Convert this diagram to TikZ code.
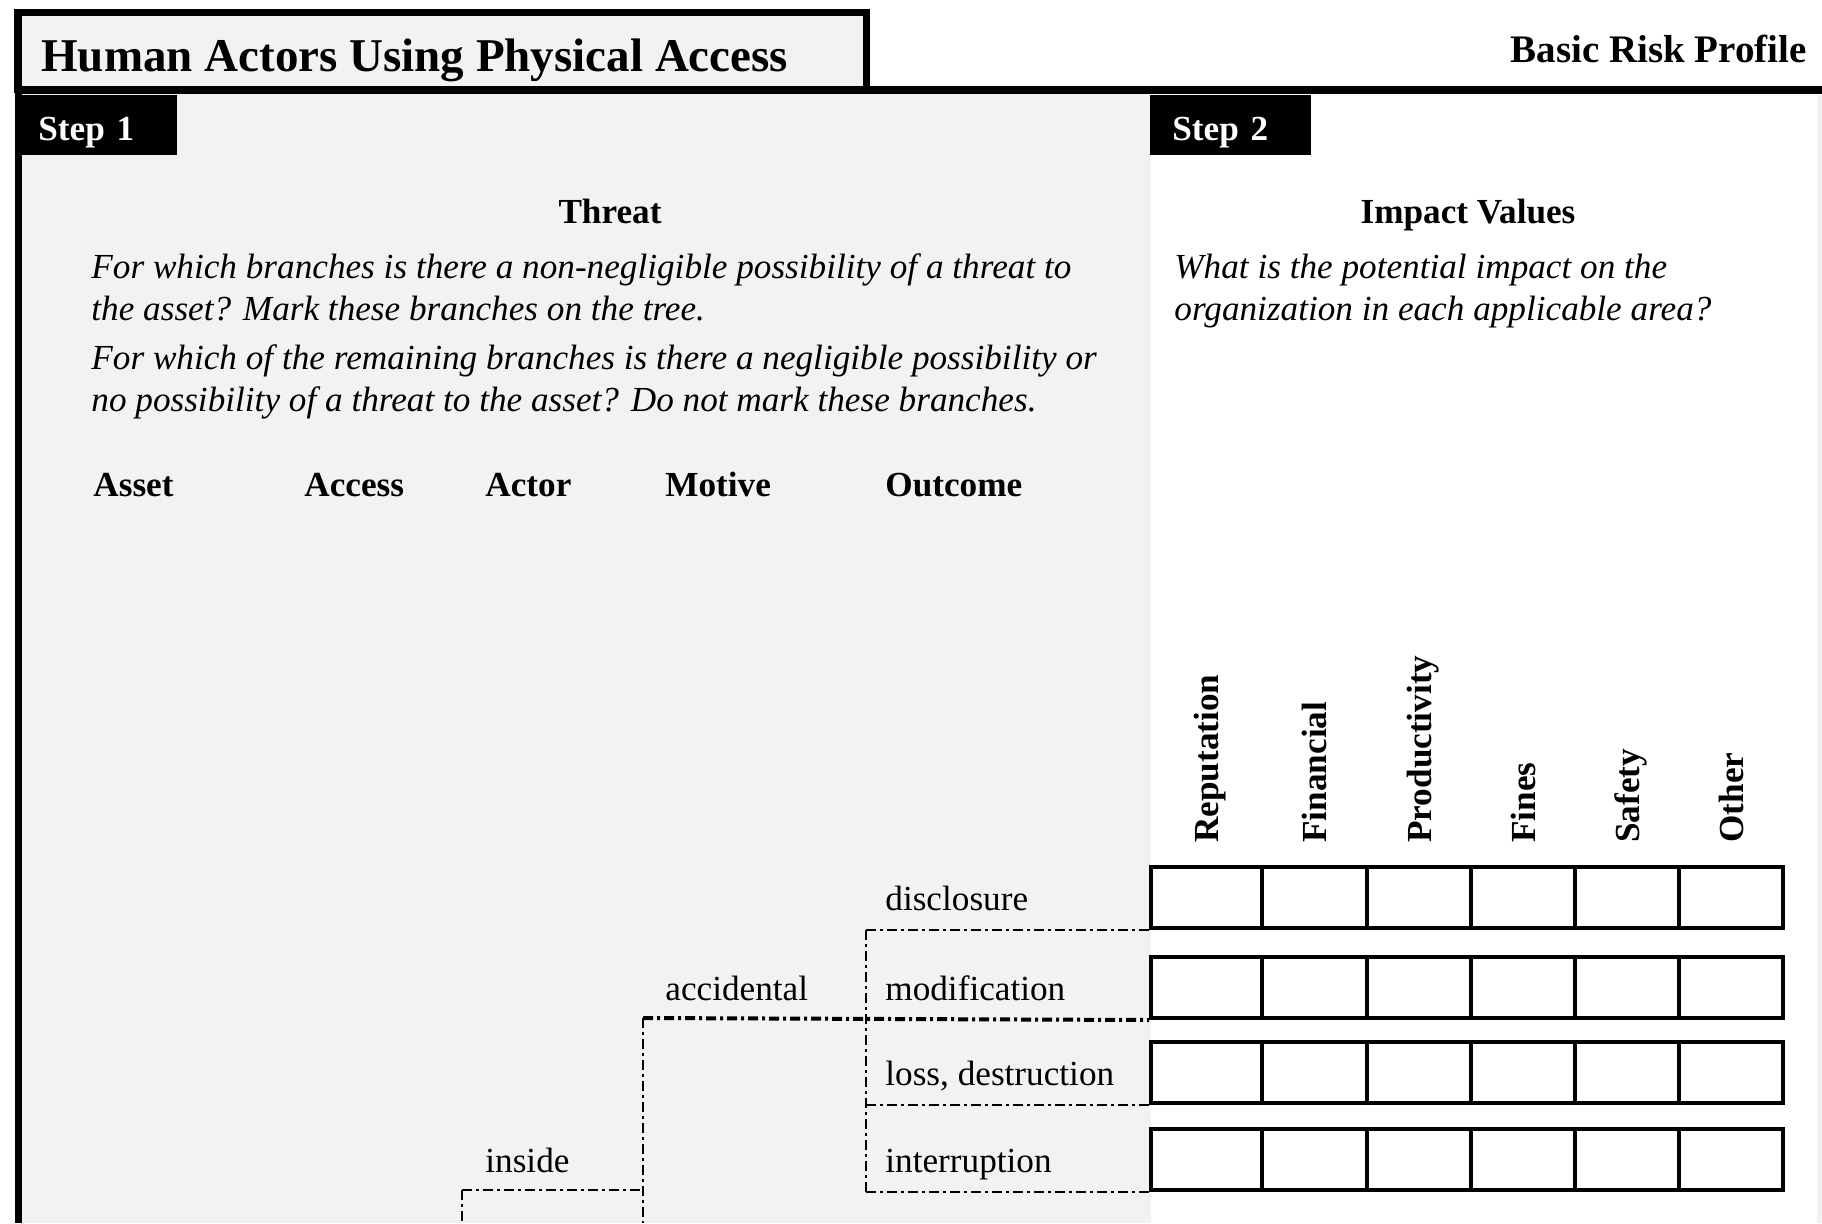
\documentclass[tikz,border=0pt]{standalone}
\usepackage{fontspec}
\setmainfont{Liberation Serif}
\definecolor{panelgray}{RGB}{242,242,242}
\begin{document}
\begin{tikzpicture}[x = 0.5pt, y = -0.5pt, draw = black,
  txt/.style = {inner sep = 0pt, font = \fontsize{17.6}{21}\selectfont},
  head/.style = {inner sep = 0pt, font = \fontsize{17.6}{21}\selectfont\bfseries},
  ask/.style = {inner sep = 0pt, anchor = base west, font = \fontsize{17.6}{21}\selectfont\itshape},
  tab/.style = {fill = black, text = white, anchor = north west, inner xsep = 11pt, inner ysep = 0pt,
    text width = 58.5pt, text height = 15pt, text depth = 0pt, minimum height = 30pt,
    font = \fontsize{17.6}{21}\selectfont\bfseries},
  cellbox/.style = {draw, fill = white, line width = 2pt, inner sep = 0pt, minimum height = 30.5pt},
  branch/.style = {line width = 1.2pt, dash pattern = on 5pt off 2pt on 1.5pt off 2pt},
  trunk/.style = {line width = 2pt, dash pattern = on 5pt off 2pt on 1.5pt off 2pt}]
\useasboundingbox (0,0) rectangle (1822,1223);
\fill[white] (0,0) rectangle (1822,1223);
\fill[panelgray] (18,90) rectangle (1151,1223);
\fill[panelgray] (1817,95) rectangle (1822,1223);
% frame
\filldraw[fill = panelgray, line width = 3.5pt] (17,12) rectangle (866,89);
\draw[line width = 4pt] (17,90) -- (1822,90);
\draw[line width = 3.5pt] (18,10) -- (18,1223);
\node[inner sep = 0pt, anchor = base west, font = \fontsize{23.5}{28}\selectfont\bfseries] (title) at (41,71) {Human Actors Using Physical Access};
\node[inner sep = 0pt, anchor = base east, font = \fontsize{19.5}{23}\selectfont\bfseries] (profile) at (1807,62) {Basic Risk Profile};
\node[tab] (step1) at (16,95) {Step 1};
\node[tab] (step2) at (1150,95) {Step 2};
% step 1
\node[head, anchor = base] (threat) at (610,223) {Threat};
\node[ask] (q1) at (91,278) {For which branches is there a non-negligible possibility of a threat to};
\node[ask] (q2) at (91,320) {the asset? Mark these branches on the tree.};
\node[ask] (q3) at (91,369) {For which of the remaining branches is there a negligible possibility or};
\node[ask] (q4) at (91,411) {no possibility of a threat to the asset? Do not mark these branches.};
\node[head, anchor = base west] (asset) at (93,496) {Asset};
\node[head, anchor = base west] (access) at (304,496) {Access};
\node[head, anchor = base west] (actor) at (485,496) {Actor};
\node[head, anchor = base west] (motive) at (665,496) {Motive};
\node[head, anchor = base west] (outcome) at (885,496) {Outcome};
% step 2
\node[head, anchor = base] (impact) at (1468,223) {Impact Values};
\node[ask] (p1) at (1174,278) {What is the potential impact on the};
\node[ask] (p2) at (1174,320) {organization in each applicable area?};
\foreach \r/\yb in {1/928, 2/1018, 3/1103, 4/1190}
  \foreach \c/\xa/\xb in {1/1151/1262, 2/1262/1367, 3/1367/1471, 4/1471/1575, 5/1575/1679, 6/1679/1783}
    \node[cellbox, minimum width = {(\xb-\xa)*0.5pt}] (c\r-\c) at ({(\xa+\xb)/2},{\yb-30.5}) {};
\foreach \c/\name in {1/Reputation, 2/Financial, 3/Productivity, 4/Fines, 5/Safety, 6/Other}
  \node[head, rotate = 90, anchor = base west] (imp\c) at ([shift = {(12,-22)}]c1-\c.north) {\name};
% tree
\node[txt, anchor = base west] (disclosure) at (885,910) {disclosure};
\node[txt, anchor = base west] (modification) at (885,1000) {modification};
\node[txt, anchor = base west] (loss) at (885,1085) {loss, destruction};
\node[txt, anchor = base west] (interruption) at (885,1172) {interruption};
\node[txt, anchor = base west] (accidental) at (665,1000) {accidental};
\node[txt, anchor = base west] (inside) at (485,1172) {inside};
\coordinate (fork) at (866,1018);
\coordinate (split) at (643,1018);
\coordinate (branchin) at (462,1190);
\coordinate (bottom) at (0,1223);
\draw[branch] (fork |- c1-1.south west) -- (fork |- c4-1.south west);
\foreach \r in {1,3,4}
  \draw[branch] (fork |- c\r-1.south west) -- (c\r-1.south west);
\draw[trunk] (split) -- (c2-1.south west);
\draw[branch] (split) -- (split |- bottom);
\draw[branch] (branchin) -- (split |- branchin);
\draw[branch] (branchin) -- (branchin |- bottom);
\end{tikzpicture}
\end{document}
